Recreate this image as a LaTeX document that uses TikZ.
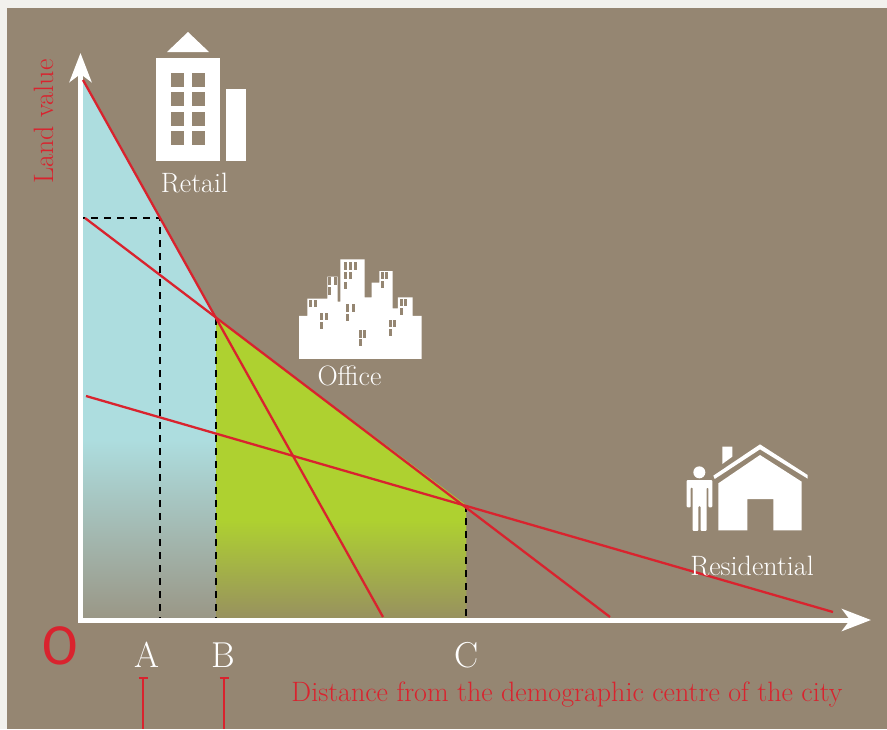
\documentclass[tikz,border=0pt]{standalone}
\usepackage{fontspec}
\usepackage{xcolor}
\usetikzlibrary{arrows.meta,calc,positioning}
\newfontfamily\signfont{Fira Sans}
\definecolor{paper}{HTML}{F2F1ED}
\definecolor{taupe}{HTML}{958672}
\definecolor{cityred}{HTML}{D9232E}
\definecolor{paleblue}{HTML}{ADDDDF}
\definecolor{limegreen}{HTML}{AED130}
\definecolor{fogbottom}{HTML}{9A9786}
\definecolor{olivebottom}{HTML}{98915F}
\tikzset{%
	curve/.style    = {draw=cityred, line width=2.3pt}, % Rent lines
	guide/.style    = {draw=black, line width=1.6pt, dash pattern=on 7pt off 6pt}, % Dashed drops
	axis/.style     = {draw=white, line width=5pt, line cap=rect, -{Stealth[length=29pt,width=22pt,inset=8pt]}},
	tick/.style     = {draw=cityred, line width=1.6pt},
	icon/.style     = {fill=white, draw=none},
	hole/.style     = {fill=taupe, draw=none},
	whitelabel/.style = {text=white, inner sep=0pt, font=\fontsize{28}{28}\selectfont},
	redlabel/.style = {text=cityred, inner sep=0pt, font=\fontsize{28}{28}\selectfont},
}
\begin{document}
\begin{tikzpicture}[x=1pt,y=-1pt]
	\useasboundingbox (0,0) rectangle (887,729);
	\fill[paper] (0,0) rectangle (887,729);
	\fill[taupe] (7,8) rectangle (887,729);

	% points on the chart
	\coordinate (origin) at (80.5,620);
	\coordinate (ytop) at (80.5,53);
	\coordinate (xend) at (871,620);
	\coordinate (retailtop) at (83,80);
	\coordinate (retailend) at (383,617);
	\coordinate (officetop) at (85,218);
	\coordinate (officeend) at (610,617);
	\coordinate (hometop) at (86,396);
	\coordinate (homeend) at (833,612);
	\coordinate (kneeb) at (216,318);
	\coordinate (kneec) at (466,505);
	\coordinate (levela) at (78,218);
	\coordinate (corner) at (160,218);
	\coordinate (foota) at (160,618);
	\coordinate (footb) at (216,618);
	\coordinate (footc) at (466,618);

	% coloured bands
	\fill[paleblue] (retailtop) -- (kneeb) -- (footb) -- (80,618) -- (80,80) -- cycle;
	\shade[top color=paleblue, bottom color=fogbottom] (81,440) rectangle (216,618);
	\fill[limegreen] (kneeb) -- (kneec) -- (footc) -- (footb) -- cycle;
	\shade[top color=limegreen, bottom color=olivebottom] (216,520) rectangle (466,618);

	% drops
	\draw[guide] (levela) -- (corner) -- (foota);
	\draw[guide] (kneeb) -- (footb);
	\draw[guide] (kneec) -- (footc);

	% axes
	\draw[axis] (origin) -- (ytop);
	\draw[axis] (origin) -- (xend);

	% rent lines
	\draw[curve] (retailtop) -- (retailend);
	\draw[curve] (officetop) -- (officeend);
	\draw[curve] (hometop) -- (homeend);

	% retail icon
	\fill[icon] (167,52) -- (188,32) -- (209,52) -- cycle;
	\fill[icon] (156,58) rectangle (220,161);
	\fill[icon] (226,89) rectangle (246,161);
	\foreach \wx in {171,192}
		\foreach \wy in {73,92,112,131}
			\fill[hole] (\wx,\wy) rectangle +(13,14);

	% office icon
	\begin{scope}[shift={(280,240)},x=0.3333pt,y=-0.3333pt]
		\fill[icon] (57,357) -- (57,228) -- (82,228) -- (82,176) -- (142,176) -- (142,110)
			-- (173,110) -- (173,185) -- (181,185) -- (181,58) -- (254,58) -- (254,172)
			-- (275,172) -- (275,128) -- (298,128) -- (298,93) -- (338,93) -- (338,205)
			-- (354,205) -- (354,172) -- (398,172) -- (398,228) -- (425,228) -- (425,357) -- cycle;
		\foreach \wx/\wy in {191/67,207/67,222/67,191/96,207/96,191/125,303/96,316/96,303/122,
			145/112,161/112,145/142,88/180,103/180,360/177,372/177,360/203,199/193,215/193,
			199/222,121/218,134/218,121/245,238/271,250/271,238/297,327/240,339/240,327/266}
			\fill[hole] (\wx,\wy) rectangle +(9,22);
	\end{scope}

	% house and person
	\begin{scope}[shift={(670,430)},x=0.3333pt,y=-0.3333pt]
		\fill[icon] (88,127) circle (6pt);
		\fill[icon,rounded corners=1pt] (50,150) -- (127,150) -- (127,232) -- (115,232) -- (115,172)
			-- (110,172) -- (110,303) -- (92,303) -- (92,228) -- (85,228) -- (85,303) -- (68,303)
			-- (68,172) -- (62,172) -- (62,232) -- (50,232) -- cycle;
		\fill[icon] (157,50) -- (187,50) -- (187,80) -- (157,102) -- cycle;
		\fill[icon] (130,137) -- (270,43) -- (413,135) -- (413,146)
			-- (270,58) -- (134,147) -- cycle;
		\fill[icon] (145,160) -- (270,75) -- (395,155) -- (395,301)
			-- (310,301) -- (310,207) -- (232,207) -- (232,301) -- (145,301) -- cycle;
	\end{scope}

	% labels
	\node[whitelabel] (retail) at (194.5,183) {Retail};
	\node[whitelabel] (office) at (349.5,376) {Office};
	\node[whitelabel] (residential) at (752,566) {Residential};
	\node[redlabel,rotate=90] (landvalue) at (44,121.5) {Land value};
	\node[redlabel] (distance) at (567,695) {Distance from the demographic centre of the city};
	\node[text=cityred,inner sep=0pt,font=\signfont\fontsize{54}{54}\selectfont] (o) at (60,646) {O};
	\node[whitelabel,font=\fontsize{36}{36}\selectfont] (a) at (147,655) {A};
	\node[whitelabel,font=\fontsize{36}{36}\selectfont] (b) at (223,655) {B};
	\node[whitelabel,font=\fontsize{36}{36}\selectfont] (c) at (467,655) {C};

	% ticks under A and B
	\coordinate (ticka) at (143,678);
	\coordinate (tickb) at (224,678);
	\draw[tick] (ticka) -- (143,729);
	\draw[tick] ($(ticka)+(-4.5,0)$) -- ($(ticka)+(4.5,0)$);
	\draw[tick] (tickb) -- (224,729);
	\draw[tick] ($(tickb)+(-4.5,0)$) -- ($(tickb)+(4.5,0)$);
\end{tikzpicture}
\end{document}
